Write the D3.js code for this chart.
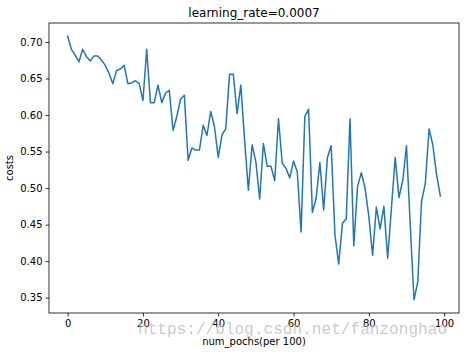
<!DOCTYPE html>
<html>
<head>
<meta charset="utf-8">
<script src="https://cdn.jsdelivr.net/npm/d3@7"></script>
<style>
  body { margin: 0; background: #fff; }
  svg { display: block; font-family: "DejaVu Sans", sans-serif; }
</style>
</head>
<body>
<svg width="469" height="354"></svg>
<script>
// costs, one per 100 epochs
const costs = [
    0.708, 0.690, 0.682, 0.673, 0.690, 0.680, 0.674, 0.681, 0.681, 0.675,
    0.668, 0.657, 0.643, 0.661, 0.663, 0.668, 0.643, 0.644, 0.647, 0.643,
    0.620, 0.690, 0.617, 0.617, 0.641, 0.617, 0.630, 0.634, 0.579, 0.598,
    0.622, 0.627, 0.538, 0.555, 0.552, 0.552, 0.586, 0.572, 0.605, 0.584,
    0.542, 0.573, 0.581, 0.656, 0.656, 0.602, 0.641, 0.566, 0.497, 0.559,
    0.536, 0.485, 0.561, 0.530, 0.530, 0.510, 0.595, 0.534, 0.527, 0.514,
    0.537, 0.522, 0.440, 0.598, 0.608, 0.467, 0.486, 0.535, 0.470, 0.542,
    0.558, 0.436, 0.396, 0.452, 0.458, 0.595, 0.421, 0.502, 0.521, 0.500,
    0.461, 0.408, 0.474, 0.444, 0.475, 0.404, 0.472, 0.542, 0.487, 0.510,
    0.558, 0.449, 0.347, 0.372, 0.482, 0.506, 0.581, 0.559, 0.518, 0.489
];
const xTicks = [0, 20, 40, 60, 80, 100];
const yTicks = [0.35, 0.40, 0.45, 0.50, 0.55, 0.60, 0.65, 0.70];
const title = "learning_rate=0.0007";
const xLabel = "num_pochs(per 100)";
const yLabel = "costs";
const watermark = "https://blog.csdn.net/fanzonghao";

const svg = d3.select("svg");
const margin = { top: 23, right: 10, bottom: 41, left: 49 };
const width = 469 - margin.left - margin.right;
const height = 354 - margin.top - margin.bottom;

const g = svg.append("g")
    .attr("transform", "translate(" + margin.left + "," + margin.top + ")");

// matplotlib style 5% padding
const n = costs.length - 1;
const xPad = n * 0.05;
const x = d3.scaleLinear().domain([-xPad, n + xPad]).range([0, width]);
const yMin = d3.min(costs), yMax = d3.max(costs);
const yPad = (yMax - yMin) * 0.05;
const y = d3.scaleLinear().domain([yMin - yPad, yMax + yPad]).range([height, 0]);

const xAxis = g.append("g")
    .attr("transform", "translate(0," + height + ")")
    .call(d3.axisBottom(x).tickValues(xTicks).tickSize(3.5).tickPadding(3).tickFormat(d3.format("d")));
const yAxis = g.append("g")
    .call(d3.axisLeft(y).tickValues(yTicks).tickSize(3.5).tickPadding(3).tickFormat(d3.format(".2f")));

[xAxis, yAxis].forEach(a => {
    a.select(".domain").remove();
    a.selectAll("text").attr("font-size", 10).attr("fill", "#000")
        .attr("font-family", "DejaVu Sans");
    a.selectAll("line").attr("stroke", "#000").attr("stroke-width", 0.8);
});

const line = d3.line()
    .x((d, i) => x(i))
    .y(d => y(d));

g.append("path")
    .datum(costs)
    .attr("fill", "none")
    .attr("stroke", "#1f77b4")
    .attr("stroke-width", 1.5)
    .attr("stroke-linejoin", "round")
    .attr("stroke-linecap", "square")
    .attr("d", line);

// frame
g.append("rect")
    .attr("width", width)
    .attr("height", height)
    .attr("fill", "none")
    .attr("stroke", "#000")
    .attr("stroke-width", 0.8);

svg.append("text")
    .attr("x", margin.left + width / 2)
    .attr("y", 17)
    .attr("text-anchor", "middle")
    .attr("font-size", 12)
    .text(title);

svg.append("text")
    .attr("x", margin.left + width / 2)
    .attr("y", 345)
    .attr("text-anchor", "middle")
    .attr("font-size", 10)
    .text(xLabel);

svg.append("text")
    .attr("transform", "translate(13," + (margin.top + height / 2) + ") rotate(-90)")
    .attr("text-anchor", "middle")
    .attr("font-size", 10)
    .text(yLabel);

svg.append("text")
    .attr("x", 138)
    .attr("y", 334)
    .attr("font-family", "Liberation Mono")
    .attr("font-size", 16)
    .attr("textLength", 309)
    .attr("fill", "#bbb")
    .attr("fill-opacity", 0.8)
    .text(watermark);
</script>
</body>
</html>
